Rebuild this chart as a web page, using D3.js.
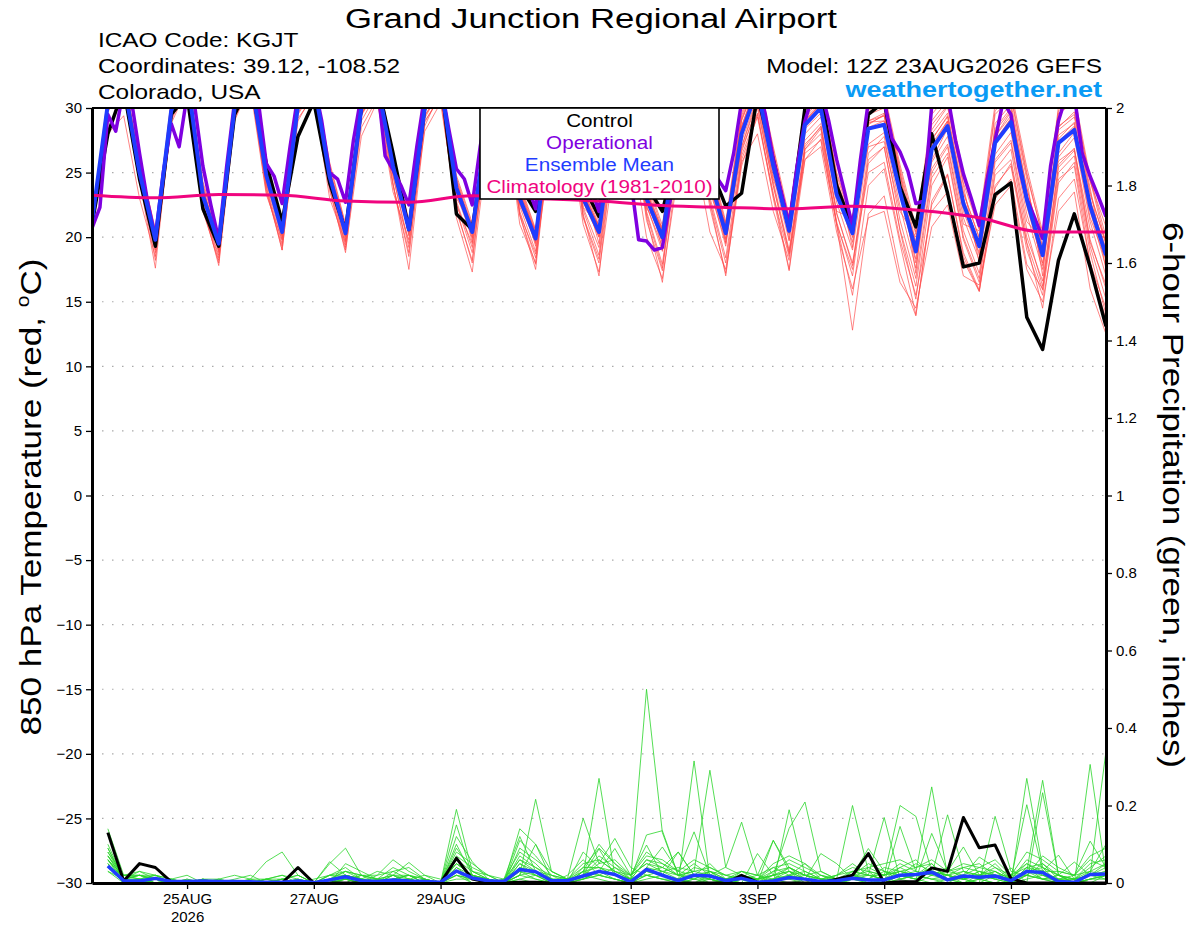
<!DOCTYPE html>
<html>
<head>
<meta charset="utf-8">
<script src="https://cdn.jsdelivr.net/npm/d3@7"></script>
<style>
  body { margin: 0; background: #fff; }
  svg { font-family: "Liberation Sans", Arial, Helvetica, sans-serif; }
</style>
</head>
<body>
<svg id="chart" width="1200" height="927"></svg>
<script>
// ---- data (read off the GEFS plume) ----
// 6-hourly steps from 12Z 23AUG2026, 65 points
const controlTemp = [21.0,28.0,31.5,24.5, 19.3,29.5,31.0,22.2, 19.3,29.5,32.0,25.7, 21.2,27.8,30.5,24.2,
  20.5,30.0,32.0,26.5, 20.6,30.0,32.5,21.8, 20.6,29.0,31.0,24.0, 22.0,29.0,31.0,24.0,
  21.6,29.0,31.0,24.0, 22.0,27.0,31.0,25.5, 22.4,23.4,31.0,26.0, 20.7,30.0,31.0,24.0,
  20.7,29.5,30.5,23.9, 20.8,28.0,23.4,17.7, 18.0,23.3,24.2,13.8, 11.3,18.2,21.8,17.7, 13.1];

const meanTemp = [21.2,30.3,32.0,25.0, 19.8,29.8,32.5,23.2, 19.5,30.0,32.5,24.8, 20.4,30.2,32.0,24.7,
  20.3,30.0,32.0,25.5, 20.6,30.0,32.0,23.8, 20.4,29.5,31.5,23.0, 19.9,30.0,31.5,23.0,
  20.4,29.5,31.0,23.0, 20.0,28.5,31.0,24.5, 20.3,28.0,31.5,25.5, 20.5,28.7,30.0,23.3,
  20.3,28.4,28.7,23.5, 18.9,26.8,28.6,22.6, 19.3,27.3,28.9,22.9, 18.6,27.3,28.3,22.4, 18.6];

// operational run, 3-hourly, 129 points
const operationalTemp = [20.7,22.3,29.5,28.2,31.5,30.5,26.5,22.8, 20.0,25.0,28.8,27.0,31.0,30.0,25.5,22.5,
  19.8,25.5,30.5,32.0,32.5,30.5,25.7,24.7, 22.6,27.0,31.0,32.0,32.0,29.0,25.0,24.5,
  22.7,27.5,31.0,32.0,32.0,26.3,25.2,24.0, 22.5,27.0,31.0,32.0,32.0,28.5,25.3,24.5,
  22.5,27.0,30.5,31.5,31.5,28.0,25.0,24.0, 22.2,27.0,30.5,31.5,31.5,28.0,25.0,23.8,
  22.0,27.0,30.5,29.0,24.5,19.8,19.7,19.0, 19.2,22.9,27.0,30.5,31.5,29.0,26.0,24.5,
  23.6,26.5,30.5,31.5,32.0,29.5,26.0,23.5, 21.0,25.5,29.0,31.0,31.5,29.0,26.0,23.5,
  20.8,26.0,30.5,31.5,30.5,27.6,26.6,25.1, 22.6,22.8,30.2,31.5,31.0,27.5,24.9,23.0,
  20.9,24.5,27.5,30.5,29.5,25.5,23.0,21.5, 19.9,25.5,29.0,31.0,31.0,26.5,24.7,23.2, 21.6];

// climatology, daily at 12Z
const climatology = [23.25,23.05,23.3,23.25,22.8,22.7,23.2,23.0,22.8,22.45,22.3,22.2,22.4,22.1,21.5,20.4,20.4];

const tempMembers = [
  [21.0,30.8,32.4,25.5, 19.2,30.1,32.9,24.0, 18.8,30.5,33.0,25.3, 20.0,30.9,32.6,25.2, 19.8,30.4,32.5,26.0, 20.1,30.6,32.3,24.4, 19.6,30.0,31.8,23.6, 19.3,30.5,32.0,23.9, 19.5,30.2,31.7,24.0, 19.0,29.6,31.9,25.5, 19.5,29.2,32.3,26.6, 19.8,29.5,31.0,24.6, 19.2,29.8,30.6,25.1, 17.2,28.3,30.1,24.0, 18.0,28.8,30.3,24.5, 17.0,28.5,29.7,23.8, 17.5],
  [21.5,29.7,31.6,24.6, 20.3,29.4,32.1,22.8, 19.9,29.6,32.0,24.1, 20.9,29.8,31.5,24.0, 20.8,29.5,31.6,25.0, 21.2,29.4,31.4,23.0, 21.0,29.0,30.9,22.5, 20.6,29.4,30.8,22.3, 21.0,28.7,30.2,22.2, 20.8,27.6,30.0,23.5, 21.1,27.0,30.5,24.5, 21.3,27.5,28.8,22.0, 21.5,27.0,27.4,22.0, 20.0,25.3,27.2,21.0, 20.5,26.0,27.5,21.2, 19.8,25.9,26.8,20.6, 19.9],
  [20.8,30.5,32.2,24.4, 17.6,29.2,32.8,22.0, 18.2,30.4,32.9,24.0, 19.5,30.6,32.4,24.0, 19.2,29.5,31.8,24.2, 17.5,28.6,31.3,21.5, 17.3,27.5,30.2,21.0, 18.0,29.0,30.9,21.8, 17.0,28.0,30.4,21.6, 16.5,26.0,29.7,22.3, 17.2,25.5,29.5,23.4, 17.5,26.8,28.4,21.0, 15.5,24.0,25.3,19.5, 14.0,22.5,24.8,18.8, 15.9,23.8,25.7,19.5, 14.5,23.0,24.5,18.0, 13.6],
  [21.3,30.0,32.3,25.8, 20.0,30.3,32.7,23.8, 19.7,29.7,32.2,25.0, 20.6,30.0,31.8,25.3, 20.7,30.3,32.4,26.2, 20.8,30.3,32.5,24.5, 20.5,29.8,31.8,23.7, 20.2,30.5,31.9,23.6, 20.8,30.0,31.4,23.5, 20.5,29.5,31.8,25.2, 20.9,29.0,32.2,26.4, 21.0,29.8,31.1,24.0, 20.8,29.5,30.0,24.8, 19.6,28.0,29.6,23.5, 19.9,28.4,30.0,23.8, 19.2,28.6,29.5,23.5, 19.4],
  [21.0,30.6,32.0,25.2, 19.5,29.9,32.2,23.4, 19.0,30.1,32.8,24.9, 20.2,30.4,32.3,24.4, 20.0,30.1,32.1,25.0, 20.3,29.8,31.8,23.3, 20.0,29.3,31.2,22.6, 19.6,29.8,31.0,22.7, 20.1,29.1,30.6,22.8, 19.6,27.8,30.3,24.0, 19.8,27.0,30.8,24.3, 19.0,27.2,28.5,21.8, 18.0,25.0,25.8,19.8, 15.5,22.0,23.5,18.2, 15.8,23.0,24.5,17.9, 16.0,24.5,25.5,18.0, 14.5],
  [21.4,31.0,32.8,25.3, 20.1,30.2,32.8,23.5, 19.6,30.3,32.6,25.6, 20.5,30.5,32.3,25.0, 20.6,30.5,32.4,25.8, 20.9,30.3,32.2,24.3, 20.7,30.0,31.9,23.9, 20.3,30.4,32.1,23.8, 20.7,30.1,31.6,23.9, 20.4,29.7,31.8,25.4, 20.6,29.1,32.0,26.2, 20.9,29.6,31.0,24.4, 21.0,29.5,30.3,25.0, 20.2,28.7,30.2,24.2, 20.6,29.5,30.8,24.8, 20.1,29.8,30.5,24.3, 20.8],
  [20.9,28.0,29.4,23.0, 18.5,28.8,31.5,22.3, 18.4,29.2,31.8,23.5, 19.3,29.0,31.2,23.6, 19.0,27.8,30.5,24.0, 18.8,29.0,30.8,22.0, 18.2,28.4,30.5,21.7, 17.5,28.8,30.6,21.5, 18.0,27.4,29.8,21.3, 17.4,26.8,29.6,22.8, 18.0,26.0,29.3,23.2, 18.5,26.8,28.0,21.2, 17.0,25.7,27.0,20.5, 15.2,24.0,26.2,19.8, 16.5,24.8,26.0,19.6, 15.9,25.0,26.3,19.3, 15.2],
  [21.6,30.4,31.8,24.8, 19.8,29.6,32.4,23.0, 19.4,30.0,32.4,24.5, 20.3,30.2,31.9,24.9, 20.2,29.9,31.9,25.6, 20.4,30.1,32.1,23.6, 20.3,29.6,31.6,23.2, 19.8,29.9,31.4,22.9, 20.3,29.4,31.1,23.1, 19.9,28.4,30.9,24.2, 20.2,28.2,31.6,25.4, 20.3,28.4,29.6,23.5, 20.0,28.8,29.4,23.2, 18.3,26.0,28.4,22.0, 18.8,27.2,29.0,22.4, 18.0,26.5,28.1,21.5, 18.2],
  [21.1,30.9,32.6,26.0, 20.4,30.6,33.2,24.3, 20.2,30.7,33.0,26.0, 21.0,30.8,32.6,25.8, 21.0,30.7,32.7,26.5, 21.3,30.5,32.6,24.8, 21.1,30.1,32.2,24.2, 20.6,30.7,32.4,24.3, 21.2,30.4,32.0,24.5, 20.9,29.9,32.3,26.0, 21.2,29.6,32.7,27.0, 21.6,30.4,31.6,25.0, 21.4,30.3,31.2,25.6, 20.8,29.5,31.0,25.0, 21.2,30.3,31.4,25.4, 20.4,30.1,31.0,24.6, 20.0],
  [20.7,30.2,32.0,24.9, 19.0,29.5,32.3,22.5, 17.8,29.0,31.9,23.7, 19.0,29.6,31.7,24.2, 19.4,29.4,31.6,24.8, 19.2,29.2,31.5,22.6, 18.8,28.7,30.8,22.0, 18.4,29.3,30.7,22.1, 18.6,28.6,30.2,22.0, 17.9,27.2,29.9,23.1, 18.4,26.6,30.2,24.0, 18.7,27.0,28.6,21.9, 17.8,26.5,27.8,21.3, 16.8,25.0,27.0,20.5, 17.2,25.8,27.3,20.6, 16.2,25.6,26.9,19.8, 16.0],
  [21.2,30.5,32.5,25.4, 19.6,30.0,32.6,23.3, 19.3,30.2,32.7,25.0, 20.2,30.3,32.1,24.6, 20.4,30.2,32.3,25.7, 20.6,30.2,32.1,23.9, 20.4,29.7,31.7,23.1, 19.9,30.2,31.7,23.1, 20.5,29.7,31.2,23.2, 20.2,28.8,31.2,24.7, 20.5,28.4,31.8,25.8, 20.6,29.0,30.3,23.6, 20.6,28.9,29.0,23.7, 19.0,27.2,29.0,22.8, 19.6,27.8,29.4,23.2, 19.0,27.9,28.8,22.8, 19.1],
  [21.3,30.1,31.9,24.9, 19.9,29.7,32.3,23.1, 19.6,29.9,32.4,24.6, 20.5,30.1,31.8,24.5, 20.4,29.8,31.7,25.2, 20.5,29.7,31.7,23.5, 20.2,29.2,31.1,22.8, 19.7,29.6,31.2,22.8, 20.0,29.0,30.5,22.4, 19.3,27.6,30.2,23.6, 19.6,26.8,30.0,24.0, 18.8,26.0,27.0,20.4, 16.0,21.5,22.0,16.5, 14.5,20.8,22.5,17.0, 16.3,22.5,24.0,17.5, 15.0,22.0,23.5,16.0, 12.5],
  [21.0,30.3,32.1,25.1, 19.7,29.9,32.5,23.6, 19.5,30.1,32.6,24.7, 20.3,30.2,32.0,24.8, 20.3,30.0,32.1,25.4, 20.6,30.0,32.0,23.8, 20.5,29.6,31.6,23.2, 20.0,30.1,31.6,23.2, 20.4,29.6,31.1,23.3, 20.1,28.7,31.0,24.6, 20.4,28.3,31.7,25.6, 20.7,28.9,30.4,23.8, 20.5,29.0,29.6,24.2, 19.3,27.5,29.4,23.0, 19.5,27.8,29.7,23.3, 18.7,27.6,28.9,22.9, 19.0],
  [21.4,29.8,31.5,24.2, 19.3,29.0,31.8,22.4, 18.6,29.3,31.5,23.3, 19.8,29.2,30.9,23.0, 19.6,28.5,30.7,23.5, 19.8,28.2,30.4,22.5, 19.5,27.8,30.0,21.8, 18.7,27.0,29.0,21.0, 17.3,26.0,27.5,20.0, 16.8,25.0,27.0,20.4, 17.5,25.8,28.0,22.0, 18.2,26.5,27.5,21.0, 17.5,26.0,27.0,20.6, 16.2,24.6,26.5,20.0, 16.8,25.2,26.8,20.0, 16.6,25.4,26.7,19.6, 16.3],
  [21.2,30.6,32.3,25.6, 19.9,30.2,32.7,23.7, 19.8,30.4,32.8,25.2, 20.7,30.6,32.3,25.2, 20.5,30.4,32.4,26.0, 20.8,30.4,32.4,24.2, 20.6,30.0,32.0,23.6, 20.2,30.3,31.8,23.4, 20.6,29.9,31.4,23.6, 20.3,29.0,31.5,25.0, 20.7,28.6,32.0,26.0, 20.9,29.3,30.7,24.0, 20.9,29.0,29.4,24.0, 19.5,27.6,29.3,23.4, 20.0,28.2,29.8,23.8, 19.3,28.3,29.3,23.3, 19.6],
  [21.0,30.0,31.8,24.5, 18.8,29.3,32.0,22.7, 18.9,29.7,32.2,24.3, 19.8,29.9,31.6,24.2, 19.7,29.6,31.4,24.7, 19.5,29.4,31.2,22.8, 19.2,28.9,30.9,22.4, 18.9,29.4,30.8,22.3, 19.2,28.8,30.3,22.5, 18.9,27.9,30.3,23.9, 19.3,27.4,30.9,24.8, 19.7,28.0,29.3,22.7, 19.0,27.2,28.1,22.4, 17.6,25.8,27.8,21.5, 18.2,26.4,28.1,21.8, 17.5,26.2,27.7,21.2, 17.0],
  [21.5,30.7,32.5,25.9, 20.6,30.5,33.0,24.1, 20.0,30.5,32.9,25.7, 21.1,30.7,32.5,25.6, 20.9,30.6,32.6,26.3, 21.1,30.4,32.5,24.6, 20.9,30.0,32.0,24.0, 20.5,30.6,32.2,24.1, 20.9,30.3,31.9,24.3, 20.6,29.8,32.0,25.7, 21.0,29.4,32.5,26.8, 21.2,30.1,31.3,24.8, 21.1,30.0,30.8,25.3, 20.4,29.0,30.6,24.6, 20.7,29.8,31.0,25.0, 20.0,29.6,30.4,24.4, 19.5],
  [20.9,30.2,31.9,24.7, 18.2,29.1,32.0,22.2, 18.0,29.5,32.0,23.9, 19.0,29.5,31.5,23.8, 18.8,29.0,31.2,24.1, 18.5,28.9,31.0,22.2, 18.0,28.5,30.6,21.7, 17.9,28.9,30.4,21.6, 18.3,28.2,29.9,21.8, 17.6,27.0,29.4,22.7, 17.0,26.3,29.6,23.0, 17.4,26.0,27.6,21.0, 12.8,21.8,23.2,17.2, 13.9,22.8,24.9,18.5, 15.8,24.0,25.5,19.0, 15.5,24.2,25.8,18.8, 14.0],
  [21.3,30.4,32.2,25.3, 20.2,30.1,32.6,23.6, 19.9,30.2,32.5,25.0, 20.8,30.4,32.1,25.1, 20.9,30.1,32.1,25.8, 21.0,30.2,32.2,24.1, 20.8,29.8,31.7,23.4, 20.4,30.1,31.6,23.3, 20.9,29.7,31.2,23.4, 20.6,28.9,31.3,24.8, 20.8,28.5,31.8,25.7, 21.0,29.1,30.2,23.7, 20.4,28.5,29.0,23.6, 19.0,27.0,29.0,22.6, 19.4,27.5,29.2,23.0, 18.8,27.4,28.6,22.4, 18.5],
  [21.1,30.8,32.7,25.7, 19.4,30.0,32.8,23.4, 19.1,30.3,32.9,25.1, 20.1,30.5,32.2,24.8, 20.1,30.2,32.2,25.6, 20.2,30.3,32.3,23.9, 19.9,29.8,31.7,23.3, 19.5,30.2,31.8,23.1, 20.0,29.8,31.3,23.3, 19.6,28.9,31.3,24.8, 19.9,28.6,31.9,25.9, 20.2,29.2,30.4,23.7, 19.6,28.7,29.5,23.9, 18.0,26.8,28.9,22.5, 18.6,27.4,29.2,22.8, 17.8,27.2,28.5,22.0, 17.7]
];

// 6-hour precipitation (inches), periods ending at steps 1..64
const controlPrecip = [0.13,0.005,0.05,0.04,0.003,0.003,0.003,0.002, 0.001,0,0,0,0.04,0,0,0,
  0,0,0,0,0,0,0.064,0.01, 0.002,0,0.002,0.002,0,0,0,0, 0,0,0,0,0,0,0,0,
  0.02,0.002,0,0,0,0,0.01,0.02, 0.076,0,0.003,0.003,0.039,0.03,0.169,0.091, 0.098,0.011,0,0,0,0,0,0];

const meanPrecip = [0.044,0.006,0.005,0.012,0.004,0.004,0.005,0.004, 0.004,0.003,0.002,0.002,0.005,0.001,0.008,0.016,
  0.006,0.004,0.008,0.005,0.004,0.002,0.031,0.013, 0.006,0.004,0.035,0.029,0.006,0.006,0.018,0.03,
  0.022,0.003,0.035,0.02,0.006,0.02,0.018,0.006, 0.012,0.002,0.005,0.014,0.01,0.004,0.006,0.012,
  0.008,0.008,0.02,0.022,0.028,0.008,0.018,0.015, 0.018,0.006,0.03,0.027,0.004,0.002,0.022,0.023];

const precipMembers = [
  [0.14,0.02,0.03,0.01,0,0,0.01,0, 0,0,0,0.01,0.02,0,0.01,0.02, 0.01,0,0,0.01,0,0,0.19,0.03, 0.01,0,0.05,0.02,0,0,0.03,0.1, 0.05,0.01,0.5,0.13,0.02,0.01,0.03,0, 0.02,0,0.01,0.03,0.01,0,0,0.02, 0,0.01,0.04,0.02,0.05,0.01,0,0.02, 0.03,0,0.27,0.04,0,0,0.02,0.05],
  [0.09,0.01,0.02,0.02,0,0.01,0,0, 0,0,0.01,0.02,0.01,0,0.05,0.09, 0.02,0,0.01,0.02,0,0,0.15,0.02, 0,0,0.14,0.1,0.01,0,0.02,0.27, 0.02,0,0.03,0.02,0.08,0.02,0,0.01, 0,0,0.11,0.03,0,0,0.01,0.2, 0.03,0,0.02,0.01,0.03,0.02,0.01,0, 0.02,0.01,0.03,0.265,0.02,0,0.03,0.1],
  [0.06,0.02,0.01,0,0,0,0.01,0.01, 0.02,0.01,0.055,0.08,0.02,0,0,0.01, 0,0.02,0.06,0.03,0.01,0,0.12,0.055, 0.01,0,0.02,0.216,0.03,0.01,0.167,0.05, 0.115,0.04,0.02,0.01,0,0.315,0.01,0, 0.01,0.02,0,0.189,0.02,0.01,0,0.01, 0.02,0.169,0.01,0,0.02,0.176,0.03,0.01, 0,0.02,0.04,0.01,0.02,0,0.306,0.02],
  [0.05,0,0.01,0.02,0.01,0,0,0, 0,0,0,0,0,0.01,0.02,0.03, 0.01,0.03,0.02,0.053,0.02,0,0.064,0.01, 0,0.01,0.12,0.03,0.01,0,0.02,0.088, 0.02,0.011,0.124,0.135,0.02,0.03,0.291,0.04, 0.02,0.01,0.02,0.141,0.209,0.03,0.01,0, 0,0.02,0.2,0.172,0.03,0.02,0.01,0, 0.172,0.03,0.02,0.01,0,0.01,0.02,0.341],
  [0.1,0.01,0,0,0.01,0.02,0,0, 0,0.01,0,0,0,0,0.055,0.02, 0.01,0,0,0,0,0,0.02,0.01, 0,0,0.02,0.1,0.03,0.01,0.01,0.03, 0.089,0.02,0.098,0.02,0.01,0,0.02,0.041, 0.157,0.02,0.01,0,0.01,0.076,0.05,0.01, 0,0,0.146,0.03,0.248,0.02,0.01,0.03, 0.02,0.01,0.202,0.03,0.072,0.01,0,0.02],
  [0.07,0.02,0.02,0.01,0,0,0,0.01, 0,0,0,0.01,0,0,0.01,0, 0.02,0.01,0.02,0,0.01,0,0.05,0.02, 0.01,0,0.03,0.01,0,0.02,0.06,0.02, 0.01,0,0.04,0.093,0.03,0.132,0.02,0.01, 0,0.076,0.02,0.01,0,0.02,0.01,0.02, 0.089,0.03,0.02,0.01,0.128,0.03,0.093,0.02, 0.01,0.039,0,0.233,0.02,0.054,0.02,0.01],
  [0.04,0.01,0.01,0,0,0,0,0, 0,0,0,0.01,0.02,0,0,0.05, 0.03,0.01,0.04,0.02,0.01,0,0.09,0.03, 0.02,0,0.06,0.04,0.02,0.01,0.02,0.06, 0.03,0.02,0.05,0.04,0.08,0.02,0.01,0, 0.03,0.02,0.11,0.04,0.01,0,0.02,0.03, 0.02,0.01,0.02,0.05,0.03,0.01,0.02,0.067, 0.04,0.01,0.03,0.02,0.01,0.02,0.108,0.04],
  [0.08,0.01,0,0.01,0,0,0.01,0, 0,0,0.01,0,0,0,0.02,0.04, 0.01,0,0.02,0.01,0,0,0.04,0.01, 0,0.01,0.08,0.05,0.01,0,0.04,0.04, 0.02,0.01,0.06,0.05,0.02,0.03,0.04,0.02, 0.01,0,0.03,0.06,0.04,0.02,0,0.01, 0.04,0.02,0.05,0.03,0.02,0.04,0.01,0.02, 0.05,0.01,0.06,0.04,0.02,0.01,0.04,0.07],
  [0.03,0,0,0,0,0,0,0, 0,0,0,0,0,0,0,0.01, 0,0,0,0,0,0,0.02,0, 0,0,0.01,0,0,0,0.01,0.02, 0.01,0,0.02,0.01,0,0.01,0,0, 0.01,0,0,0.02,0.01,0,0,0.01, 0,0,0.01,0.02,0.01,0,0.02,0.01, 0,0,0.01,0.02,0,0,0.01,0.01],
  [0.06,0.01,0.02,0,0,0.01,0,0, 0.01,0.02,0,0,0,0,0.01,0.03, 0.02,0.02,0.03,0.01,0,0,0.1,0.02, 0.01,0,0.09,0.06,0.03,0.01,0.02,0.05, 0.06,0.02,0.07,0.06,0.03,0.02,0.05,0.01, 0.02,0.01,0.04,0.05,0.03,0.01,0.02,0.04, 0.03,0.02,0.04,0.06,0.02,0.03,0.04,0.05, 0.02,0.02,0.05,0.03,0.03,0.02,0.06,0.04],
  [0.05,0,0,0.01,0,0,0,0, 0,0,0,0,0.01,0,0,0.02, 0.01,0,0.01,0.02,0.01,0,0.03,0, 0,0,0.04,0.02,0,0,0.01,0.03, 0.02,0,0.03,0.02,0.01,0.02,0.01,0, 0.02,0.01,0.02,0.03,0.02,0.01,0,0.02, 0.01,0.03,0.02,0.01,0.03,0.02,0,0.01, 0.02,0,0.03,0.01,0.02,0,0.02,0.03],
  [0.07,0.01,0.01,0,0,0,0,0, 0,0,0,0,0,0,0,0.01, 0.02,0.01,0,0.01,0.02,0.01,0.05,0.02, 0.01,0,0.03,0.02,0.01,0.01,0.05,0.06, 0.03,0.01,0.03,0.02,0.01,0.04,0.03,0.01, 0,0.01,0.01,0.04,0.02,0.01,0.02,0.05, 0.02,0.02,0.03,0.04,0.05,0.01,0.03,0.02, 0.04,0.02,0.02,0.05,0.01,0.01,0.03,0.02],
  [0.09,0.01,0,0,0.01,0,0,0, 0,0,0.01,0.02,0,0,0.02,0.01, 0,0,0.02,0,0,0,0.07,0.04, 0.02,0,0.11,0.07,0.02,0,0.08,0.04, 0.02,0.01,0.02,0.03,0.02,0.05,0.02,0.01, 0.03,0.02,0.04,0.02,0.05,0.01,0.01,0.02, 0.01,0.04,0.03,0.02,0.04,0.03,0.02,0.04, 0.03,0.01,0.02,0.07,0.04,0.02,0.03,0.05],
  [0.04,0.02,0.01,0,0,0,0,0, 0,0,0,0,0,0,0.01,0.02, 0.01,0,0,0.01,0,0,0.03,0.01, 0,0,0.02,0.03,0.01,0,0.03,0.02, 0.04,0.01,0.06,0.04,0.02,0.01,0.03,0.02, 0.01,0,0.02,0.03,0.01,0,0.01,0.02, 0.02,0.01,0.03,0.02,0.01,0.02,0.04,0.03, 0.01,0,0.04,0.03,0.01,0.01,0.02,0.04],
  [0.06,0,0.01,0.02,0,0,0,0, 0,0,0,0,0,0,0,0, 0,0,0.01,0.02,0,0,0.04,0.02, 0,0,0.05,0.03,0.01,0,0.02,0.03, 0.01,0,0.04,0.03,0.01,0.02,0.02,0.01, 0.02,0,0.01,0.02,0.03,0.01,0,0.03, 0.02,0.01,0.02,0.03,0.02,0.01,0.02,0.01, 0.03,0.01,0.05,0.02,0.01,0,0.01,0.02],
  [0.08,0.02,0.02,0.01,0,0,0.01,0, 0,0,0,0,0.01,0,0.01,0.03, 0.02,0.01,0.01,0.01,0,0,0.06,0.03, 0.01,0,0.07,0.04,0.01,0.01,0.03,0.07, 0.04,0.02,0.05,0.03,0.04,0.03,0.02,0, 0.01,0.01,0.03,0.04,0.02,0.03,0.01,0.02, 0.05,0.03,0.01,0.02,0.04,0.02,0.03,0.02, 0.02,0,0.04,0.05,0.02,0.01,0.05,0.06],
  [0.03,0.01,0,0,0,0,0,0, 0,0,0,0,0,0,0,0.01, 0,0.01,0,0,0.01,0,0.01,0.01, 0,0,0.01,0.02,0,0,0.02,0.01, 0,0,0.01,0.02,0,0.01,0.01,0, 0,0,0.01,0.01,0.02,0,0,0.01, 0.01,0,0.02,0.01,0,0.01,0.01,0.02, 0.01,0,0.02,0.01,0,0,0.01,0.02],
  [0.05,0.01,0.03,0.02,0.01,0,0,0, 0,0.01,0.01,0,0,0,0,0.02, 0.01,0,0.03,0.04,0.01,0,0.08,0.05, 0.02,0.01,0.06,0.03,0.02,0.01,0.04,0.09, 0.05,0.02,0.08,0.05,0.03,0.06,0.04,0.02, 0.03,0.01,0.05,0.07,0.05,0.02,0.01,0.03, 0.04,0.05,0.06,0.04,0.06,0.03,0.05,0.04, 0.06,0.02,0.08,0.06,0.03,0.02,0.07,0.09],
  [0.06,0.01,0,0,0,0,0,0.01, 0,0,0,0.01,0,0,0.01,0.01, 0,0,0.01,0,0,0,0.02,0.01, 0,0,0.02,0.01,0,0,0.01,0.02, 0.01,0,0.02,0.01,0.01,0,0.01,0, 0.01,0,0.01,0.02,0.01,0,0,0.01, 0.01,0,0.01,0.02,0.01,0.01,0,0.01, 0.02,0,0.02,0.01,0.01,0,0.01,0.02],
  [0.07,0.01,0.02,0.01,0,0,0,0, 0,0,0.01,0.01,0,0,0.02,0.02, 0.01,0.01,0.02,0.02,0,0,0.05,0.02, 0.01,0,0.04,0.03,0.01,0,0.03,0.04, 0.03,0.01,0.03,0.04,0.02,0.02,0.03,0.01, 0.02,0.01,0.02,0.04,0.02,0.01,0.01,0.02, 0.03,0.02,0.03,0.02,0.03,0.02,0.01,0.03, 0.02,0.01,0.03,0.04,0.02,0.01,0.02,0.03]
];

const tempTicks = d3.range(-30, 31, 5);
const precipTicks = [0, 0.2, 0.4, 0.6, 0.8, 1, 1.2, 1.4, 1.6, 1.8, 2];
const dateTicks = ['2026-08-25', '2026-08-27', '2026-08-29', '2026-09-01', '2026-09-03', '2026-09-05', '2026-09-07'];
const legendItems = [
  { label: 'Control', color: '#000000' },
  { label: 'Operational', color: '#7f00e0' },
  { label: 'Ensemble Mean', color: '#1f3cff' },
  { label: 'Climatology (1981-2010)', color: '#f0047f' }
];

// ---- layout ----
const plot = { left: 92, right: 1106, top: 108, bottom: 883 };
const color = { member: '#ff4a4a', precip: '#2ad62a', control: '#000000', oper: '#7f00e0', mean: '#1f3cff', clim: '#f0047f' };

const start = Date.UTC(2026, 7, 23, 12);
const hour = 3600 * 1000;
const stepTime = (i, h) => new Date(start + i * h * hour);

const x = d3.scaleUtc().domain([stepTime(0, 6), stepTime(64, 6)]).range([plot.left, plot.right]);
const yT = d3.scaleLinear().domain([-30, 30]).range([plot.bottom, plot.top]);
const yP = d3.scaleLinear().domain([0, 2]).range([plot.bottom, plot.top]);

const svg = d3.select('#chart');

// The source font is wider than Liberation Sans; stretch text to the widths seen.
function widen(sel, factor) {
  sel.each(function() {
    const len = this.getComputedTextLength();
    d3.select(this).attr('textLength', len * factor).attr('lengthAdjust', 'spacingAndGlyphs');
  });
  return sel;
}

svg.append('defs').append('clipPath').attr('id', 'plotClip')
  .append('rect')
  .attr('x', plot.left).attr('y', plot.top)
  .attr('width', plot.right - plot.left).attr('height', plot.bottom - plot.top);

// grid
svg.append('g').attr('class', 'grid')
  .selectAll('line')
  .data(tempTicks.filter(t => t > -30 && t < 30))
  .join('line')
  .attr('x1', plot.left).attr('x2', plot.right)
  .attr('y1', d => yT(d)).attr('y2', d => yT(d))
  .attr('stroke', '#aaaaaa').attr('stroke-width', 1.2)
  .attr('stroke-dasharray', '1.5,8.5');

const canvas = svg.append('g').attr('clip-path', 'url(#plotClip)');

const tempLine = h => d3.line().x((d, i) => x(stepTime(i, h))).y(d => yT(d));
const precipLine = d3.line().x((d, i) => x(stepTime(i + 1, 6))).y(d => yP(d));

// ensemble members
canvas.append('g').selectAll('path')
  .data(tempMembers).join('path')
  .attr('d', tempLine(6))
  .attr('fill', 'none').attr('stroke', color.member)
  .attr('stroke-width', 0.8).attr('stroke-opacity', 0.85);

canvas.append('g').selectAll('path')
  .data(precipMembers).join('path')
  .attr('d', precipLine)
  .attr('fill', 'none').attr('stroke', color.precip)
  .attr('stroke-width', 0.8);

// precip control and mean
canvas.append('path').datum(controlPrecip)
  .attr('d', precipLine).attr('fill', 'none')
  .attr('stroke', color.control).attr('stroke-width', 3).attr('stroke-linejoin', 'round');
canvas.append('path').datum(meanPrecip)
  .attr('d', precipLine).attr('fill', 'none')
  .attr('stroke', color.mean).attr('stroke-width', 3.5).attr('stroke-linejoin', 'round');

// temperature control, operational, mean
canvas.append('path').datum(controlTemp)
  .attr('d', tempLine(6)).attr('fill', 'none')
  .attr('stroke', color.control).attr('stroke-width', 3.5).attr('stroke-linejoin', 'round');
canvas.append('path').datum(operationalTemp)
  .attr('d', tempLine(3)).attr('fill', 'none')
  .attr('stroke', color.oper).attr('stroke-width', 3.5).attr('stroke-linejoin', 'round');
canvas.append('path').datum(meanTemp)
  .attr('d', tempLine(6)).attr('fill', 'none')
  .attr('stroke', color.mean).attr('stroke-width', 4).attr('stroke-linejoin', 'round');

// climatology (daily)
canvas.append('path').datum(climatology)
  .attr('d', d3.line().x((d, i) => x(stepTime(i, 24))).y(d => yT(d)).curve(d3.curveMonotoneX))
  .attr('fill', 'none').attr('stroke', color.clim).attr('stroke-width', 3);

// frame: top border
svg.append('line')
  .attr('x1', plot.left).attr('x2', plot.right)
  .attr('y1', plot.top).attr('y2', plot.top)
  .attr('stroke', '#000').attr('stroke-width', 2);

// axes
const leftAxis = svg.append('g')
  .attr('transform', `translate(${plot.left},0)`)
  .call(d3.axisLeft(yT).tickValues(tempTicks).tickSize(6).tickSizeOuter(0).tickPadding(4));
const rightAxis = svg.append('g')
  .attr('transform', `translate(${plot.right},0)`)
  .call(d3.axisRight(yP).tickValues(precipTicks).tickSize(6).tickSizeOuter(0).tickPadding(4)
    .tickFormat(d3.format('~g')));
const bottomAxis = svg.append('g')
  .attr('transform', `translate(0,${plot.bottom})`)
  .call(d3.axisBottom(x).tickValues(dateTicks.map(d => new Date(d + 'T00:00:00Z')))
    .tickSize(6).tickSizeOuter(0).tickPadding(4)
    .tickFormat(d => d3.utcFormat('%-d%b')(d).toUpperCase()));

[leftAxis, rightAxis, bottomAxis].forEach(g => {
  g.selectAll('text').attr('font-size', 15).attr('font-family', null).attr('fill', '#000');
  g.selectAll('line').attr('stroke', '#000').attr('stroke-width', 1.3);
});
leftAxis.select('.domain').attr('stroke-width', 3);
rightAxis.select('.domain').attr('stroke-width', 3);
bottomAxis.select('.domain').attr('stroke-width', 3);
bottomAxis.select('.tick text').append('tspan').attr('x', 0).attr('dy', '1.25em').text('2026');

// legend
const legend = svg.append('g').attr('transform', 'translate(480,108)');
legend.append('rect').attr('width', 239).attr('height', 91)
  .attr('fill', '#fff').attr('stroke', '#000').attr('stroke-width', 1.6);
widen(legend.selectAll('text').data(legendItems).join('text')
  .attr('x', 119.5).attr('y', (d, i) => 19 + i * 22)
  .attr('text-anchor', 'middle').attr('font-size', 17.5)
  .attr('fill', d => d.color).text(d => d.label), 1.18);

// titles and header text
svg.append('text').attr('x', 591).attr('y', 28).attr('text-anchor', 'middle')
  .attr('font-size', 27).attr('textLength', 492).attr('lengthAdjust', 'spacingAndGlyphs')
  .text('Grand Junction Regional Airport');

const info = ['ICAO Code: KGJT', 'Coordinates: 39.12, -108.52', 'Colorado, USA'];
widen(svg.append('g').selectAll('text').data(info).join('text')
  .attr('x', 98).attr('y', (d, i) => 47 + i * 26)
  .attr('font-size', 21).text(d => d), 1.16);

widen(svg.append('text').attr('x', 1102).attr('y', 73).attr('text-anchor', 'end')
  .attr('font-size', 21).text('Model: 12Z 23AUG2026 GEFS'), 1.16);
widen(svg.append('text').attr('x', 1102).attr('y', 97).attr('text-anchor', 'end')
  .attr('font-size', 22.5).attr('font-weight', 'bold').attr('fill', '#0a9bf5')
  .text('weathertogether.net'), 1.2);

const yTitle = svg.append('text')
  .attr('transform', 'translate(41,497) rotate(-90)')
  .attr('text-anchor', 'middle').attr('font-size', 30)
  .attr('textLength', 477).attr('lengthAdjust', 'spacingAndGlyphs');
yTitle.append('tspan').text('850 hPa Temperature (red, ');
yTitle.append('tspan').attr('font-size', 18).attr('dy', -12).text('o');
yTitle.append('tspan').attr('dy', 12).text('C)');

svg.append('text')
  .attr('transform', 'translate(1163,495) rotate(90)')
  .attr('text-anchor', 'middle').attr('font-size', 30)
  .attr('textLength', 546).attr('lengthAdjust', 'spacingAndGlyphs')
  .text('6-hour Precipitation (green, inches)');
</script>
</body>
</html>
